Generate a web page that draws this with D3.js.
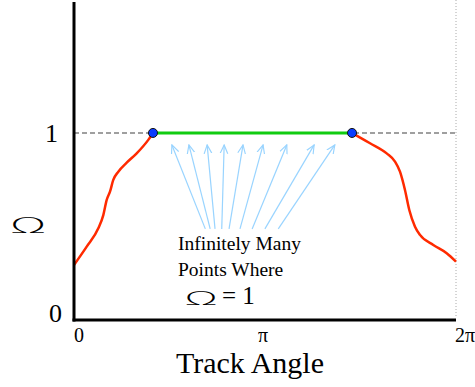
<!DOCTYPE html>
<html>
<head>
<meta charset="utf-8">
<script src="https://cdn.jsdelivr.net/npm/d3@7"></script>
<style>
  body { margin: 0; background: #fff; }
  text { font-family: "Liberation Serif", "DejaVu Serif", serif; }
  .omega { font-family: "DejaVu Sans", sans-serif; font-weight: 200; }
</style>
</head>
<body>
<div id="plot"></div>
<script>
// curve data: track angle (radians) and omega
var leftX = [0, 0.209, 0.400, 0.482, 0.538, 0.592, 0.646, 0.729, 0.867, 1.031, 1.222, 1.299];
var leftY = [0.294, 0.392, 0.490, 0.561, 0.642, 0.686, 0.749, 0.793, 0.841, 0.891, 0.963, 1.0];
var rightX = [4.573, 4.869, 5.143, 5.280, 5.362, 5.444, 5.515, 5.609, 5.691, 5.910, 6.130, 6.283];
var rightY = [1.0, 0.945, 0.891, 0.847, 0.793, 0.695, 0.588, 0.499, 0.455, 0.401, 0.357, 0.312];

// flat part where omega = 1
var flatX = [1.299, 4.573];
var flatY = [1, 1];

// annotation arrows: head angle / omega, tail angle / omega
var arrowHeadX = [1.61, 1.89, 2.19, 2.47, 2.78, 3.11, 3.50, 3.95, 4.29];
var arrowHeadY = [0.936, 0.936, 0.936, 0.936, 0.936, 0.936, 0.936, 0.936, 0.936];
var arrowTailX = [2.16, 2.24, 2.32, 2.43, 2.55, 2.73, 2.93, 3.14, 3.36];
var arrowTailY = [0.487, 0.487, 0.487, 0.487, 0.487, 0.487, 0.487, 0.487, 0.487];

var yTicks = [0, 1];
var yTickLabels = ["0", "1"];
var xTicks = [0, Math.PI, 2 * Math.PI];
var xTickLabels = ["0", "\u03c0", "2\u03c0"];

var w = 475, h = 387;

var x = d3.scaleLinear().domain([0, 2 * Math.PI]).range([74, 456]);
var y = d3.scaleLinear().domain([0, 1.7]).range([320, 2]);

var svg = d3.select("#plot").append("svg")
  .attr("width", w)
  .attr("height", h);

// arrow marker
svg.append("defs").append("marker")
  .attr("id", "head")
  .attr("viewBox", "0 0 10 10")
  .attr("refX", 9)
  .attr("refY", 5)
  .attr("markerWidth", 8)
  .attr("markerHeight", 8)
  .attr("orient", "auto")
  .append("path")
  .attr("d", "M0,1 L9,5 L0,9")
  .attr("fill", "none")
  .attr("stroke", "#99d4ff")
  .attr("stroke-width", 1.2);

// right dotted border
svg.append("line")
  .attr("x1", x(2 * Math.PI)).attr("x2", x(2 * Math.PI))
  .attr("y1", 0).attr("y2", y(0) - 2)
  .attr("stroke", "#aaa")
  .attr("stroke-width", 1)
  .attr("stroke-dasharray", "1,2");

// dashed reference line at omega = 1
svg.append("line")
  .attr("x1", x(0)).attr("x2", x(2 * Math.PI))
  .attr("y1", y(1)).attr("y2", y(1))
  .attr("stroke", "#808080")
  .attr("stroke-width", 1.5)
  .attr("stroke-dasharray", "5,3");

var line = d3.line()
  .x(function(d) { return x(d[0]); })
  .y(function(d) { return y(d[1]); })
  .curve(d3.curveMonotoneX);

// red curves
[[leftX, leftY], [rightX, rightY]].forEach(function(s) {
  svg.append("path")
    .datum(d3.zip(s[0], s[1]))
    .attr("d", line)
    .attr("fill", "none")
    .attr("stroke", "#ff2a00")
    .attr("stroke-width", 2.5);
});

// green flat segment
svg.append("path")
  .datum(d3.zip(flatX, flatY))
  .attr("d", line)
  .attr("fill", "none")
  .attr("stroke", "#11cc11")
  .attr("stroke-width", 3);

// blue end points
svg.selectAll("circle.pt")
  .data(d3.zip(flatX, flatY))
  .enter().append("circle")
  .attr("class", "pt")
  .attr("cx", function(d) { return x(d[0]); })
  .attr("cy", function(d) { return y(d[1]); })
  .attr("r", 4.5)
  .attr("fill", "#0a3cff")
  .attr("stroke", "#111")
  .attr("stroke-width", 1);

// arrows
svg.selectAll("line.arrow")
  .data(d3.range(arrowHeadX.length))
  .enter().append("line")
  .attr("class", "arrow")
  .attr("x1", function(i) { return x(arrowTailX[i]); })
  .attr("y1", function(i) { return y(arrowTailY[i]); })
  .attr("x2", function(i) { return x(arrowHeadX[i]); })
  .attr("y2", function(i) { return y(arrowHeadY[i]); })
  .attr("stroke", "#99d4ff")
  .attr("stroke-width", 1.2)
  .attr("marker-end", "url(#head)");

// axes lines
svg.append("line")
  .attr("x1", x(0)).attr("x2", x(0))
  .attr("y1", 2).attr("y2", y(0) + 1.5)
  .attr("stroke", "#000").attr("stroke-width", 3);
svg.append("line")
  .attr("x1", x(0) - 1.5).attr("x2", x(2 * Math.PI))
  .attr("y1", y(0)).attr("y2", y(0))
  .attr("stroke", "#000").attr("stroke-width", 3);

// y tick labels
svg.selectAll("text.ytick")
  .data(yTicks)
  .enter().append("text")
  .attr("class", "ytick")
  .attr("x", function(d, i) { return i == 0 ? 62 : 58; })
  .attr("y", function(d, i) { return i == 0 ? y(d) + 2 : y(d) + 9; })
  .attr("text-anchor", "end")
  .style("font-size", "26px")
  .text(function(d, i) { return yTickLabels[i]; });

// x tick labels
var xAnchor = ["start", "middle", "end"];
var xShift = [0, -2, 19];
svg.selectAll("text.xtick")
  .data(xTicks)
  .enter().append("text")
  .attr("class", "xtick")
  .attr("x", function(d, i) { return x(d) + xShift[i]; })
  .attr("y", 342)
  .attr("text-anchor", function(d, i) { return xAnchor[i]; })
  .style("font-size", "20px")
  .text(function(d, i) { return xTickLabels[i]; });

// axis titles
svg.append("text")
  .attr("x", 250)
  .attr("y", 373)
  .attr("text-anchor", "middle")
  .style("font-size", "30px")
  .text("Track Angle");

svg.append("text")
  .attr("class", "omega")
  .attr("transform", "translate(28,233) scale(2.0,0.85)")
  .attr("text-anchor", "middle")
  .style("font-size", "24px")
  .text("\u03a9");

// annotation
svg.append("text")
  .attr("x", 178).attr("y", 250)
  .style("font-size", "19.5px")
  .text("Infinitely Many");
svg.append("text")
  .attr("x", 178).attr("y", 276)
  .style("font-size", "19.5px")
  .text("Points Where");
svg.append("text")
  .attr("class", "omega")
  .attr("transform", "translate(201,305) scale(2.0,0.85)")
  .attr("text-anchor", "middle")
  .style("font-size", "22px")
  .text("\u03a9");
svg.append("text")
  .attr("x", 222).attr("y", 304)
  .style("font-size", "25px")
  .text("= 1");
</script>
</body>
</html>
